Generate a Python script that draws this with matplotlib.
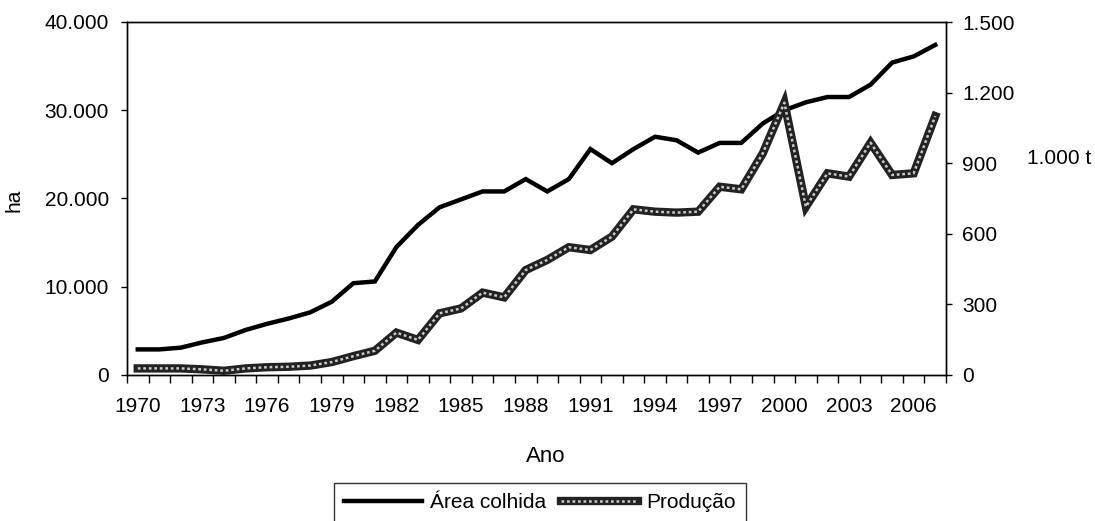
import matplotlib
matplotlib.use("Agg")
import matplotlib.pyplot as plt
from matplotlib.ticker import FuncFormatter, FixedLocator
from matplotlib.lines import Line2D
from matplotlib.legend_handler import HandlerTuple

plt.rcParams['font.family'] = ['Liberation Sans', 'DejaVu Sans']

years = list(range(1970, 2008))
area_ha = [2900, 2900, 3100, 3700, 4200, 5100, 5800, 6400, 7100, 8300,
           10400, 10600, 14500, 17000, 19000, 19900, 20800, 20800, 22200, 20800,
           22200, 25600, 24000, 25600, 27000, 26600, 25200, 26300, 26300, 28500,
           30000, 30900, 31500, 31500, 32900, 35400, 36100, 37400]
producao_kt = [28, 28, 28, 24, 18, 28, 33, 35, 40, 55,
               80, 103, 180, 149, 262, 283, 350, 330, 446, 489,
               543, 531, 588, 704, 694, 690, 694, 800, 789, 942,
               1157, 715, 857, 843, 987, 850, 857, 1100]
left_ticks = [0, 10000, 20000, 30000, 40000]
right_ticks = [0, 300, 600, 900, 1200, 1500]
label_years = years[::3]

FS = 15

def thousands(v, pos=None):
    return f"{int(round(v)):,}".replace(",", ".")

fig = plt.figure(figsize=(10.95, 5.21), dpi=100)
ax = fig.add_axes([127/1095, 1-375/521, (946-127)/1095, (375-22)/521])
ax2 = ax.twinx()

x = list(range(len(years)))
ax.plot(x, area_ha, color='black', lw=3.2, solid_joinstyle='miter', zorder=3)

prod_base = dict(color='#222222', lw=6.0, solid_joinstyle='miter')
prod_top = dict(color='#c8c8c8', lw=1.8, linestyle=(0, (1.1, 1.1)))
ax2.plot(x, producao_kt, **prod_base, zorder=2)
ax2.plot(x, producao_kt, **prod_top, zorder=2)

ax.set_xlim(-0.5, len(years) - 0.5)
ax.set_ylim(0, 40000)
ax2.set_ylim(0, 1500)
ax.set_yticks(left_ticks)
ax2.set_yticks(right_ticks)
ax.yaxis.set_major_formatter(FuncFormatter(thousands))
ax2.yaxis.set_major_formatter(FuncFormatter(thousands))

ax.set_xticks([years.index(y) for y in label_years])
ax.set_xticklabels([str(y) for y in label_years])
ax.xaxis.set_minor_locator(FixedLocator([i - 0.5 for i in range(len(years) + 1)]))
ax.tick_params(axis='x', which='major', length=0, pad=16, labelsize=FS)
ax.tick_params(axis='x', which='minor', length=5.5, width=1, direction='out')
ax.tick_params(axis='y', length=4, width=1, direction='out', labelsize=FS, pad=9)
ax2.tick_params(axis='y', length=4.5, width=1, direction='out', labelsize=FS, pad=7)

for a in (ax, ax2):
    for s in a.spines.values():
        s.set_linewidth(1)
        s.set_color('black')

fig.text(14/1095, 1-200/521, 'ha', fontsize=FS, rotation=90, ha='center', va='center')
fig.text(1027/1095, 1-158/521, '1.000 t', fontsize=FS, ha='left', va='center')
fig.text(546/1095, 1-457/521, 'Ano', fontsize=FS + 1, ha='center', va='center')

h1 = Line2D([], [], color='black', lw=3.2)
h2 = (Line2D([], [], **prod_base), Line2D([], [], **prod_top))
leg = fig.legend([h1, h2], ['Área colhida', 'Produção'], loc='upper center',
                 bbox_to_anchor=(540/1095, 1-483/521), borderaxespad=0,
                 ncol=2, fontsize=FS,
                 frameon=True, fancybox=False, edgecolor='black',
                 handlelength=3.7, handletextpad=0.4, columnspacing=0.7,
                 borderpad=0.5, handler_map={tuple: HandlerTuple(ndivide=1, pad=0)})
leg.get_frame().set_linewidth(1)

fig.savefig('out.png', dpi=100)
